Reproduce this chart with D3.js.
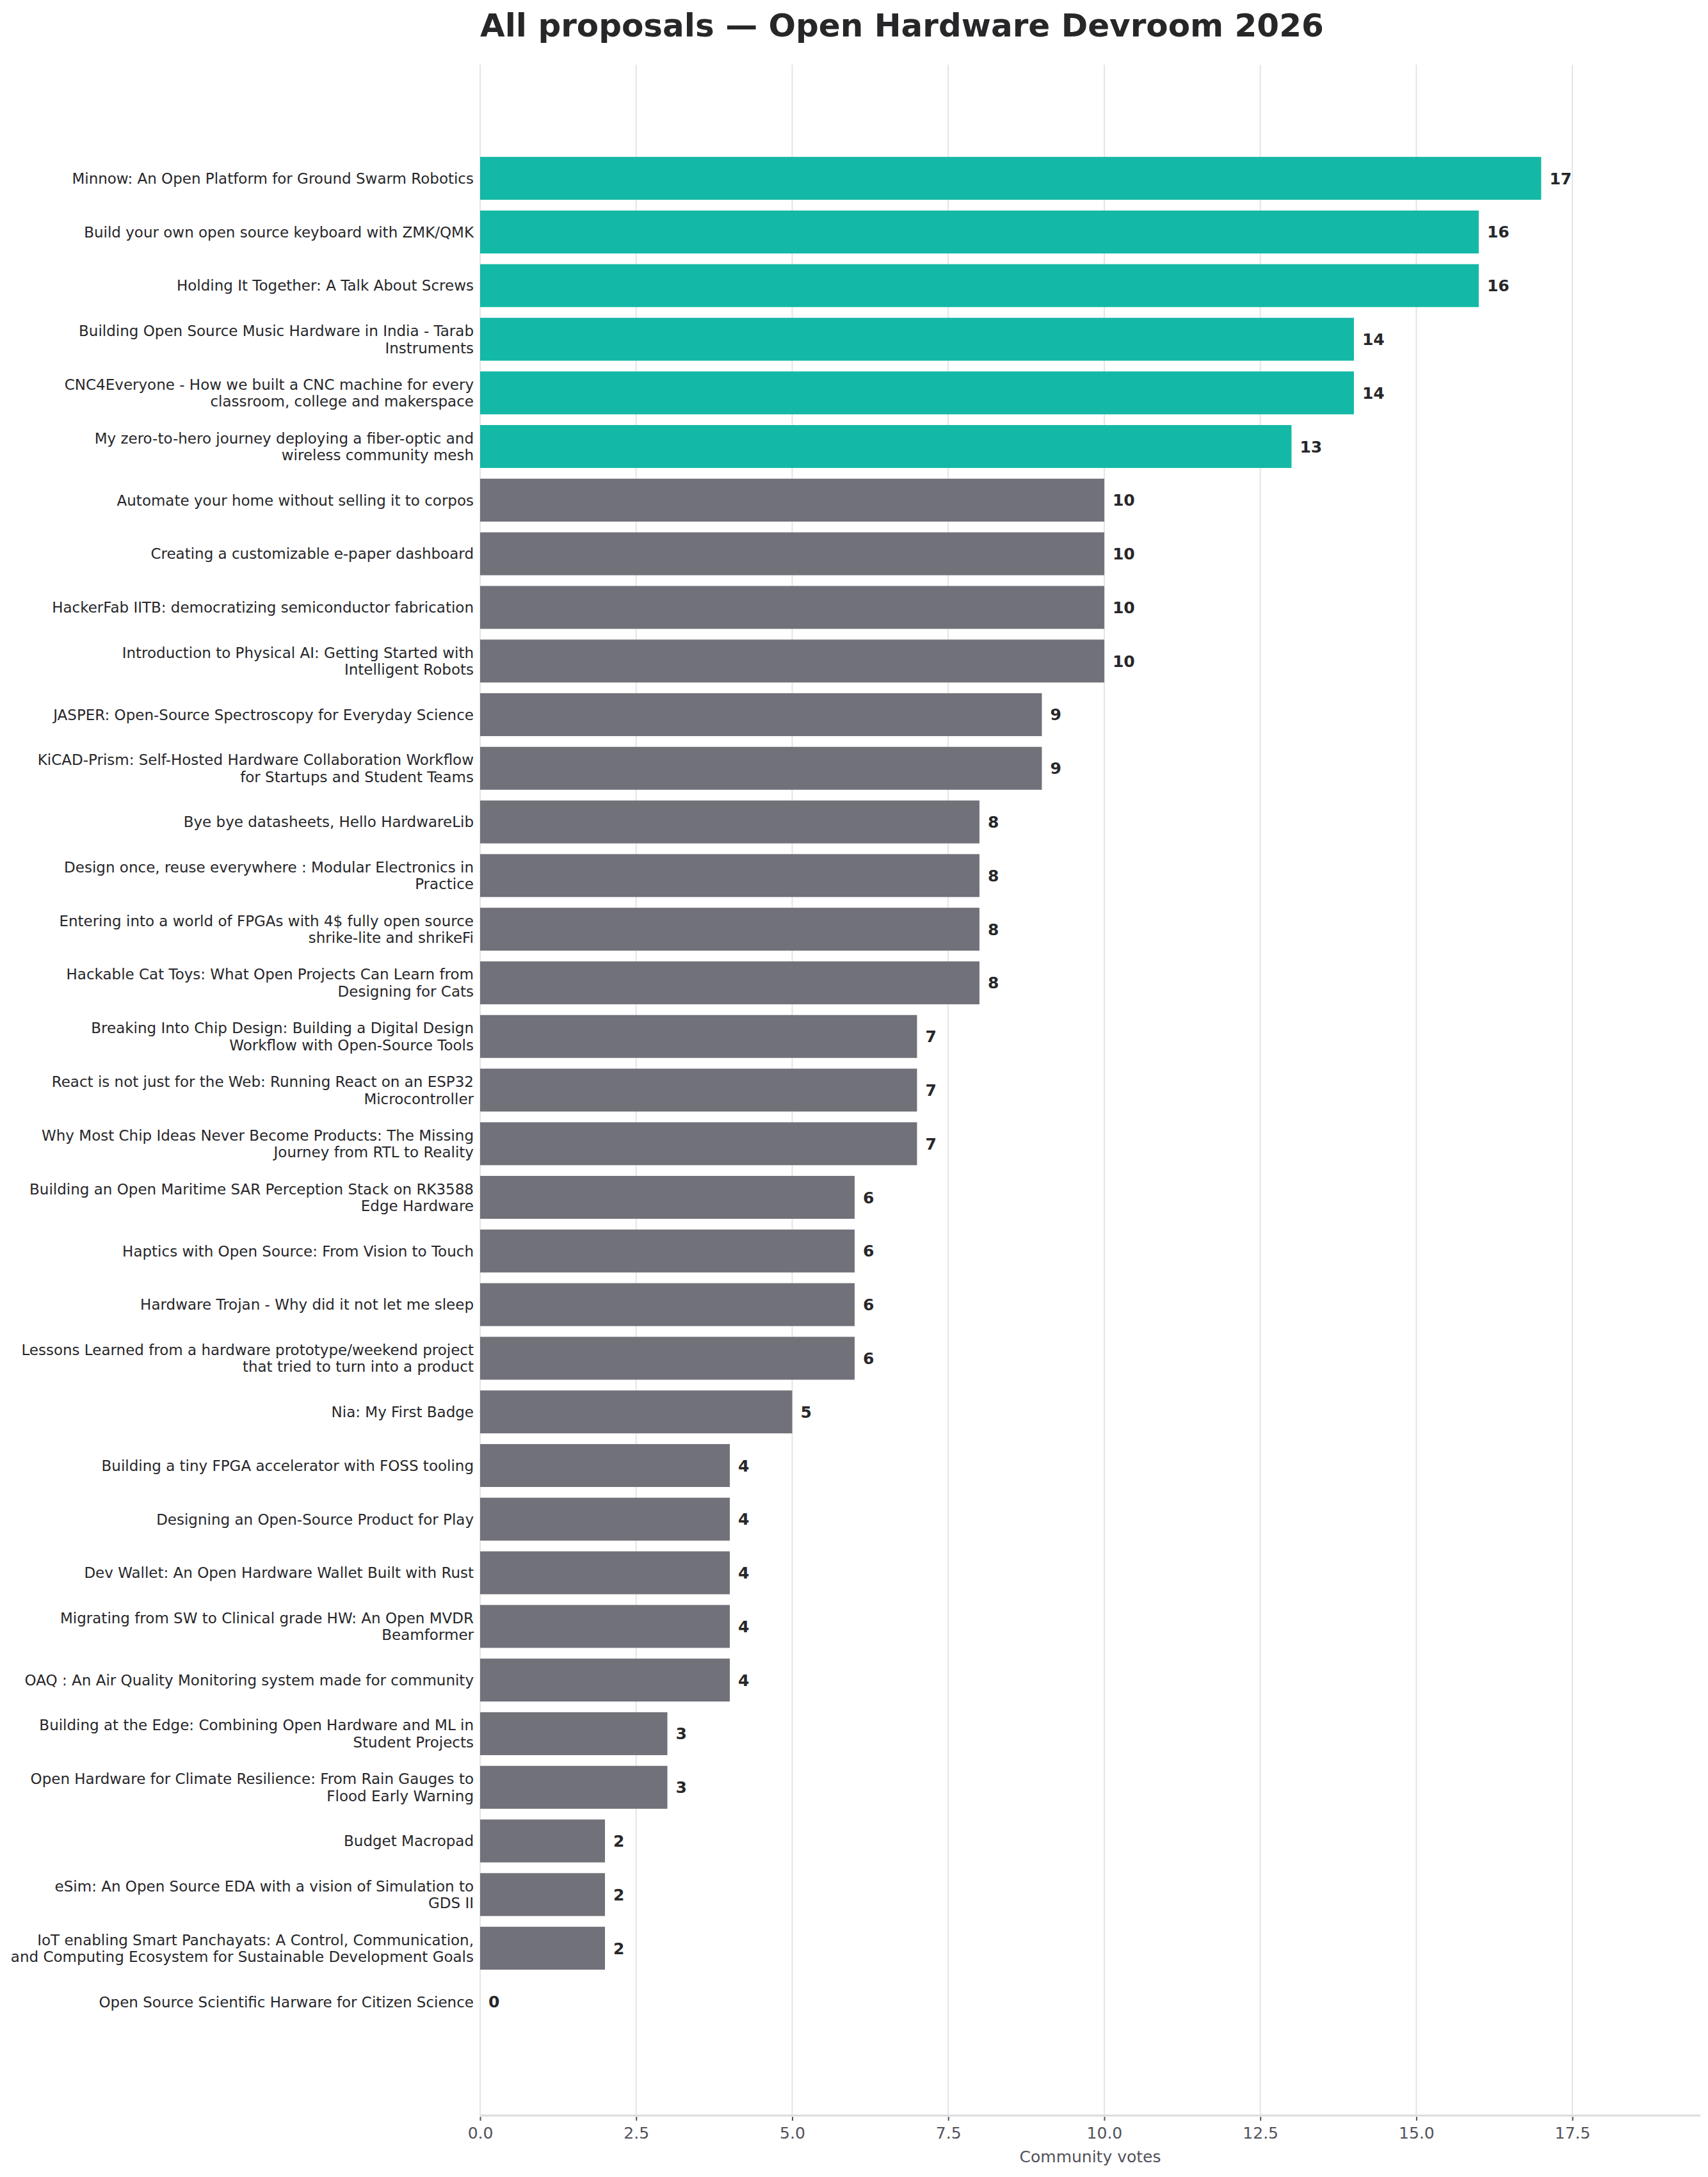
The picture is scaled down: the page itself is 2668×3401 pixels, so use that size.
<!DOCTYPE html>
<html>
<head>
<meta charset="utf-8">
<script src="https://cdn.jsdelivr.net/npm/d3@7"></script>
<style>
  body { margin: 0; background: #fff; }
  svg { display: block; font-family: "DejaVu Sans", sans-serif; }
</style>
</head>
<body>
<svg id="canvas" width="2668" height="3401"></svg>
<script>
// talk titles, top to bottom ("\n" = line break in the label)
const proposals = [
  "Minnow: An Open Platform for Ground Swarm Robotics",
  "Build your own open source keyboard with ZMK/QMK",
  "Holding It Together: A Talk About Screws",
  "Building Open Source Music Hardware in India - Tarab\nInstruments",
  "CNC4Everyone - How we built a CNC machine for every\nclassroom, college and makerspace",
  "My zero-to-hero journey deploying a fiber-optic and\nwireless community mesh",
  "Automate your home without selling it to corpos",
  "Creating a customizable e-paper dashboard",
  "HackerFab IITB: democratizing semiconductor fabrication",
  "Introduction to Physical AI: Getting Started with\nIntelligent Robots",
  "JASPER: Open-Source Spectroscopy for Everyday Science",
  "KiCAD-Prism: Self-Hosted Hardware Collaboration Workflow\nfor Startups and Student Teams",
  "Bye bye datasheets, Hello HardwareLib",
  "Design once, reuse everywhere : Modular Electronics in\nPractice",
  "Entering into a world of FPGAs with 4$ fully open source\nshrike-lite and shrikeFi",
  "Hackable Cat Toys: What Open Projects Can Learn from\nDesigning for Cats",
  "Breaking Into Chip Design: Building a Digital Design\nWorkflow with Open-Source Tools",
  "React is not just for the Web: Running React on an ESP32\nMicrocontroller",
  "Why Most Chip Ideas Never Become Products: The Missing\nJourney from RTL to Reality",
  "Building an Open Maritime SAR Perception Stack on RK3588\nEdge Hardware",
  "Haptics with Open Source: From Vision to Touch",
  "Hardware Trojan - Why did it not let me sleep",
  "Lessons Learned from a hardware prototype/weekend project\nthat tried to turn into a product",
  "Nia: My First Badge",
  "Building a tiny FPGA accelerator with FOSS tooling",
  "Designing an Open-Source Product for Play",
  "Dev Wallet: An Open Hardware Wallet Built with Rust",
  "Migrating from SW to Clinical grade HW: An Open MVDR\nBeamformer",
  "OAQ : An Air Quality Monitoring system made for community",
  "Building at the Edge: Combining Open Hardware and ML in\nStudent Projects",
  "Open Hardware for Climate Resilience: From Rain Gauges to\nFlood Early Warning",
  "Budget Macropad",
  "eSim: An Open Source EDA with a vision of Simulation to\nGDS II",
  "IoT enabling Smart Panchayats: A Control, Communication,\nand Computing Ecosystem for Sustainable Development Goals",
  "Open Source Scientific Harware for Citizen Science"
]
const votes = [17,16,16,14,14,13,10,10,10,10,9,9,8,8,8,8,7,7,7,6,6,6,6,5,4,4,4,4,4,3,3,2,2,2,0]
const selectedCount = 6
const xTicks = [0,2.5,5,7.5,10,12.5,15,17.5]
const chartTitle = "All proposals \u2014 Open Hardware Devroom 2026"
const xTitle = "Community votes"

const svg = d3.select("#canvas")
const plotLeft = 750, plotRight = 2656, plotTop = 101, plotBottom = 3305

let x = d3.scaleLinear()
    .domain([0, d3.max(votes) * 1.15])
    .range([plotLeft, plotRight])
let y = d3.scaleBand()
    .domain(d3.range(proposals.length))
    .range([plotTop, plotBottom])
    .paddingInner(0.2)
    .paddingOuter(1.72)

// vertical grid
svg.append("g")
    .selectAll("line")
    .data(xTicks)
    .enter()
    .append("line")
    .attr("x1", d => x(d)).attr("x2", d => x(d))
    .attr("y1", plotTop).attr("y2", plotBottom)
    .attr("stroke", "#e4e4e7")
    .attr("stroke-width", 2)

// bars
svg.append("g")
    .selectAll("rect")
    .data(votes)
    .enter()
    .append("rect")
    .attr("x", x(0))
    .attr("y", (d, i) => y(i))
    .attr("width", d => x(d) - x(0))
    .attr("height", y.bandwidth())
    .attr("fill", (d, i) => i < selectedCount ? "#14b8a6" : "#71717a")

// value labels
svg.append("g")
    .selectAll("text")
    .data(votes)
    .enter()
    .append("text")
    .attr("x", d => x(d) + 13)
    .attr("y", (d, i) => y(i) + y.bandwidth() / 2)
    .attr("dy", "0.36em")
    .attr("font-size", 25)
    .attr("font-weight", "bold")
    .attr("fill", "#27272a")
    .text(d => d)

// category labels
const lineH = 26.5
const labels = svg.append("g")
    .selectAll("text")
    .data(proposals)
    .enter()
    .append("text")
    .attr("text-anchor", "end")
    .attr("font-size", 23)
    .attr("fill", "#27272a")
labels.each(function (d, i) {
    const lines = d.split("\n")
    const cy = y(i) + y.bandwidth() / 2
    d3.select(this).selectAll("tspan")
        .data(lines)
        .enter()
        .append("tspan")
        .attr("x", plotLeft - 10)
        .attr("y", (l, k) => cy + (k - (lines.length - 1) / 2) * lineH)
        .attr("dy", "0.36em")
        .text(l => l)
})

// x axis
const xAxis = svg.append("g")
    .attr("transform", `translate(0,${plotBottom})`)
    .call(d3.axisBottom(x).tickValues(xTicks).tickFormat(d3.format(".1f")).tickSize(8).tickPadding(10))
xAxis.select(".domain")
    .attr("stroke", "#dcdcdf")
    .attr("stroke-width", 3)
    .attr("d", `M${plotLeft},0H${plotRight}`)
xAxis.selectAll(".tick line")
    .attr("stroke", "#52525b")
    .attr("stroke-width", 2)
    .attr("y1", 2)
xAxis.selectAll(".tick text")
    .attr("font-size", 25)
    .attr("font-family", "DejaVu Sans")
    .attr("fill", "#52525b")

svg.append("text")
    .attr("x", (plotLeft + plotRight) / 2)
    .attr("y", 3378)
    .attr("text-anchor", "middle")
    .attr("font-size", 25)
    .attr("fill", "#52525b")
    .text(xTitle)

svg.append("text")
    .attr("x", plotLeft)
    .attr("y", 57)
    .attr("font-size", 50)
    .attr("font-weight", "bold")
    .attr("fill", "#27272a")
    .text(chartTitle)
</script>
</body>
</html>
